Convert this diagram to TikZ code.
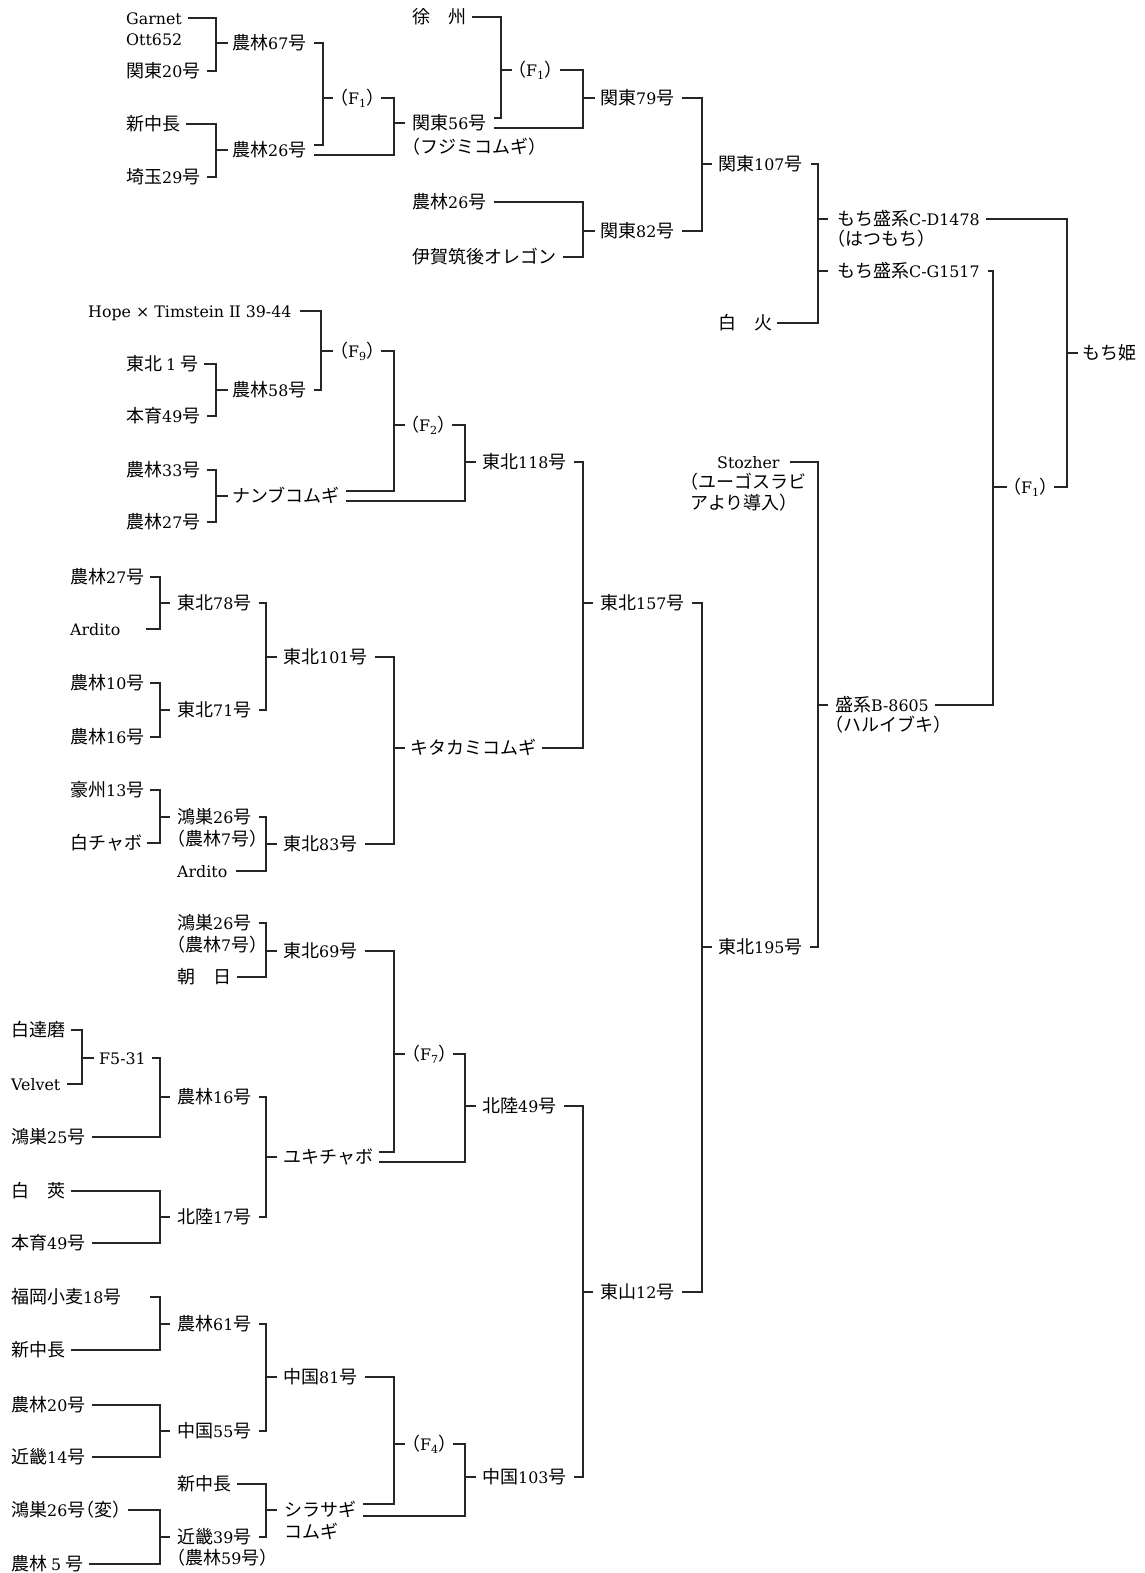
\documentclass[tikz,border=0pt]{standalone}
\usepackage{fontspec}
\setmainfont{DejaVu Serif}[Scale=0.88]
\newfontfamily\cjk{Noto Sans CJK JP}
\chardef\CJKcls=200
\newcount\cc
\cc="3000
\loop \XeTeXcharclass\cc=\CJKcls \ifnum\cc<"9FFF \advance\cc by 1 \repeat
\cc="FF00
\loop \XeTeXcharclass\cc=\CJKcls \ifnum\cc<"FFEF \advance\cc by 1 \repeat
\XeTeXinterchartoks 0 \CJKcls = {\cjk}
\XeTeXinterchartoks 4095 \CJKcls = {\cjk}
\XeTeXinterchartoks \CJKcls 0 = {\rmfamily}
\XeTeXinterchartoks 4095 0 = {\rmfamily}
\XeTeXinterchartokenstate=1
\newcommand\brk[5]{%
  \coordinate (tmpv) at (#4,0);
  \coordinate (tmpt) at (#5,0);
  \draw[ln] (#1) -| (tmpv |- #3.west) |- (#2);
  \draw[ln] (tmpv |- #3.west) -- (tmpt |- #3.west);
}
\newcommand\tck[3]{%
  \coordinate (tmpv) at (#2,0);
  \coordinate (tmpt) at (#3,0);
  \draw[ln] (tmpv |- #1.west) -- (tmpt |- #1.west);
}
\newcommand\lp{\kern-9pt（}
\newcommand\rp{）\kern-9pt}
\newcommand\Fg[1]{\lp F\textsubscript{#1}\rp}
\begin{document}
\begin{tikzpicture}[x=1pt,y=-1pt,
  every node/.style={anchor=west,inner sep=0pt,text height=15pt,text depth=2pt,
    font=\fontsize{18pt}{22pt}\selectfont,text=black},
  ln/.style={line width=1.1pt,black!85}]
\useasboundingbox[fill=white] (0,0) rectangle (1144,1573);
% ---------- top ----------
\node (garnet) at (126,18) {Garnet};
\node (ott) at (126,39) {Ott652};
\node (k20) at (126,71) {関東20号};
\node (n67) at (232,43) {農林67号};
\node (shin1) at (126,124) {新中長};
\node (sai) at (126,177) {埼玉29号};
\node (n26a) at (232,150) {農林26号};
\node (f1a) at (339,98) {\Fg{1}};
\node (jo) at (412,17) {徐　州};
\node (k56) at (412,123) {関東56号};
\node (fuji) at (411,147) {\lp フジミコムギ\rp};
\node (f1b) at (517,70) {\Fg{1}};
\node (k79) at (600,98) {関東79号};
\node (n26b) at (412,202) {農林26号};
\node (iga) at (412,257) {伊賀筑後オレゴン};
\node (k82) at (600,231) {関東82号};
\node (k107) at (718,164) {関東107号};
\node (hakka) at (718,323) {白　火};
\node (cd) at (837,219) {もち盛系C-D1478};
\node (hatsu) at (836,239) {\lp はつもち\rp};
\node (cg) at (837,271) {もち盛系C-G1517};
\node (mochi) at (1082,353) {もち姫};
\node (f1c) at (1012,487) {\Fg{1}};
% ---------- middle ----------
\node (hope) at (88,311) {Hope × Timstein I\kern-1pt I 39-44};
\node (t1) at (126,364) {東北\kern4pt 1\kern4pt 号};
\node (hon1) at (126,416) {本育49号};
\node (n58) at (232,390) {農林58号};
\node (f9) at (339,351) {\Fg{9}};
\node (n33) at (126,470) {農林33号};
\node (n27a) at (126,522) {農林27号};
\node (nanbu) at (232,496) {ナンブコムギ};
\node (f2) at (410,425) {\Fg{2}};
\node (t118) at (482,462) {東北118号};
\node (stoz) at (717,462) {Stozher};
\node (stoz2) at (689,482) {\lp ユーゴスラビ};
\node (stoz3) at (690,503) {アより導入\rp};
\node (t157) at (600,603) {東北157号};
\node (harui) at (835,705) {盛系B-8605};
\node (harui2) at (834,725) {\lp ハルイブキ\rp};
\node (n27b) at (70,577) {農林27号};
\node (ard1) at (70,629) {Ardito};
\node (t78) at (177,603) {東北78号};
\node (n10) at (70,683) {農林10号};
\node (n16a) at (70,737) {農林16号};
\node (t71) at (177,710) {東北71号};
\node (t101) at (283,657) {東北101号};
\node (gou) at (70,790) {豪州13号};
\node (shiro) at (70,843) {白チャボ};
\node (k26a) at (177,817) {鴻巣26号};
\node (k26a2) at (176,839) {\lp 農林7号\rp};
\node (ard2) at (177,871) {Ardito};
\node (t83) at (283,844) {東北83号};
\node (kita) at (410,748) {キタカミコムギ};
% ---------- lower ----------
\node (k26b) at (177,923) {鴻巣26号};
\node (k26b2) at (176,945) {\lp 農林7号\rp};
\node (asahi) at (177,977) {朝　日};
\node (t69) at (283,951) {東北69号};
\node (hakud) at (11,1030) {白達磨};
\node (velvet) at (11,1084) {Velvet};
\node (f531) at (99,1058) {F5-31};
\node (k25) at (11,1137) {鴻巣25号};
\node (n16b) at (177,1097) {農林16号};
\node (hakus) at (11,1191) {白　莢};
\node (hon2) at (11,1243) {本育49号};
\node (h17) at (177,1217) {北陸17号};
\node (yuki) at (283,1157) {ユキチャボ};
\node (f7) at (411,1054) {\Fg{7}};
\node (h49) at (482,1106) {北陸49号};
\node (tozan) at (600,1292) {東山12号};
\node (t195) at (718,947) {東北195号};
% ---------- bottom ----------
\node (fuku) at (11,1297) {福岡小麦18号};
\node (shin2) at (11,1350) {新中長};
\node (n61) at (177,1324) {農林61号};
\node (n20) at (11,1405) {農林20号};
\node (kinki14) at (11,1457) {近畿14号};
\node (c55) at (177,1431) {中国55号};
\node (c81) at (283,1377) {中国81号};
\node (shin3) at (177,1484) {新中長};
\node (k26c) at (11,1510) {鴻巣26号\lp 変\rp};
\node (n5) at (11,1564) {農林\kern4pt 5\kern4pt 号};
\node (k39) at (177,1537) {近畿39号};
\node (k39b) at (176,1558) {\lp 農林59号\rp};
\node (shira) at (284,1510) {シラサギ};
\node (shira2) at (284,1532) {コムギ};
\node (f4) at (411,1444) {\Fg{4}};
\node (c103) at (482,1477) {中国103号};
% ---------- connectors: top ----------
\brk{[xshift=6pt]garnet.east}{[xshift=6pt]k20.east}{n67}{216}{228}
\brk{[xshift=6pt]shin1.east}{[xshift=6pt]sai.east}{n26a}{216}{228}
\brk{[xshift=7pt]n67.east}{[xshift=7pt,yshift=5pt]n26a.east}{f1a}{323}{333}
\brk{[xshift=5pt]f1a.east}{[xshift=7pt,yshift=-5pt]n26a.east}{k56}{394}{405}
\brk{[xshift=6pt]jo.east}{[xshift=7pt,yshift=5pt]k56.east}{f1b}{501}{512}
\brk{[xshift=6pt]f1b.east}{[xshift=7pt,yshift=-5pt]k56.east}{k79}{583}{595}
\brk{[xshift=7pt]n26b.east}{[xshift=7pt]iga.east}{k82}{583}{595}
\brk{[xshift=7pt]k79.east}{[xshift=7pt]k82.east}{k107}{702}{712}
\brk{[xshift=8pt]k107.east}{[xshift=5pt]hakka.east}{cd}{818}{828}
\tck{cg}{818}{828}
\brk{[xshift=6pt]cd.east}{[xshift=5pt]f1c.east}{mochi}{1067}{1078}
\brk{[xshift=8pt]cg.east}{[xshift=6pt]harui.east}{f1c}{993}{1007}
% ---------- connectors: middle ----------
\brk{[xshift=8pt]hope.east}{[xshift=7pt]n58.east}{f9}{321}{333}
\brk{[xshift=6pt]t1.east}{[xshift=6pt]hon1.east}{n58}{216}{228}
\brk{[xshift=5pt]f9.east}{[xshift=6pt,yshift=5pt]nanbu.east}{f2}{394}{405}
\brk{[xshift=6pt]n33.east}{[xshift=6pt]n27a.east}{nanbu}{216}{228}
\brk{[xshift=5pt]f2.east}{[xshift=6pt,yshift=-5pt]nanbu.east}{t118}{465}{476}
\brk{[xshift=7pt]t118.east}{[xshift=6pt]kita.east}{t157}{583}{593}
\brk{[xshift=7pt]t157.east}{[xshift=7pt]tozan.east}{t195}{702}{712}
\brk{[xshift=10pt]stoz.east}{[xshift=7pt]t195.east}{harui}{818}{828}
\brk{[xshift=5pt]n27b.east}{[xshift=25pt]ard1.east}{t78}{160}{170}
\brk{[xshift=5pt]n10.east}{[xshift=5pt]n16a.east}{t71}{160}{170}
\brk{[xshift=7pt]t78.east}{[xshift=7pt]t71.east}{t101}{266}{277}
\brk{[xshift=5pt]gou.east}{[xshift=5pt]shiro.east}{k26a}{160}{170}
\brk{[xshift=7pt]k26a.east}{[xshift=8pt]ard2.east}{t83}{266}{277}
\brk{[xshift=7pt]t101.east}{[xshift=7pt]t83.east}{kita}{394}{405}
% ---------- connectors: lower ----------
\brk{[xshift=7pt]k26b.east}{[xshift=6pt]asahi.east}{t69}{266}{277}
\brk{[xshift=6pt]hakud.east}{[xshift=6pt]velvet.east}{f531}{82}{94}
\brk{[xshift=6pt]f531.east}{[xshift=6pt]k25.east}{n16b}{160}{170}
\brk{[xshift=6pt]hakus.east}{[xshift=6pt]hon2.east}{h17}{160}{170}
\brk{[xshift=7pt]n16b.east}{[xshift=7pt]h17.east}{yuki}{266}{277}
\brk{[xshift=7pt]t69.east}{[xshift=6pt,yshift=5pt]yuki.east}{f7}{394}{405}
\brk{[xshift=5pt]f7.east}{[xshift=6pt,yshift=-5pt]yuki.east}{h49}{465}{476}
\brk{[xshift=7pt]h49.east}{[xshift=7pt]c103.east}{tozan}{583}{593}
% ---------- connectors: bottom ----------
\brk{[xshift=28pt]fuku.east}{[xshift=6pt]shin2.east}{n61}{160}{170}
\brk{[xshift=6pt]n20.east}{[xshift=6pt]kinki14.east}{c55}{160}{170}
\brk{[xshift=7pt]n61.east}{[xshift=7pt]c55.east}{c81}{266}{277}
\brk{[xshift=6pt]k26c.east}{[xshift=6pt]n5.east}{k39}{160}{170}
\brk{[xshift=6pt]shin3.east}{[xshift=7pt]k39.east}{shira}{266}{277}
\brk{[xshift=7pt]c81.east}{[xshift=7pt,yshift=6pt]shira.east}{f4}{394}{405}
\brk{[xshift=5pt]f4.east}{[xshift=7pt,yshift=-6pt]shira.east}{c103}{465}{476}
\end{tikzpicture}
\end{document}
